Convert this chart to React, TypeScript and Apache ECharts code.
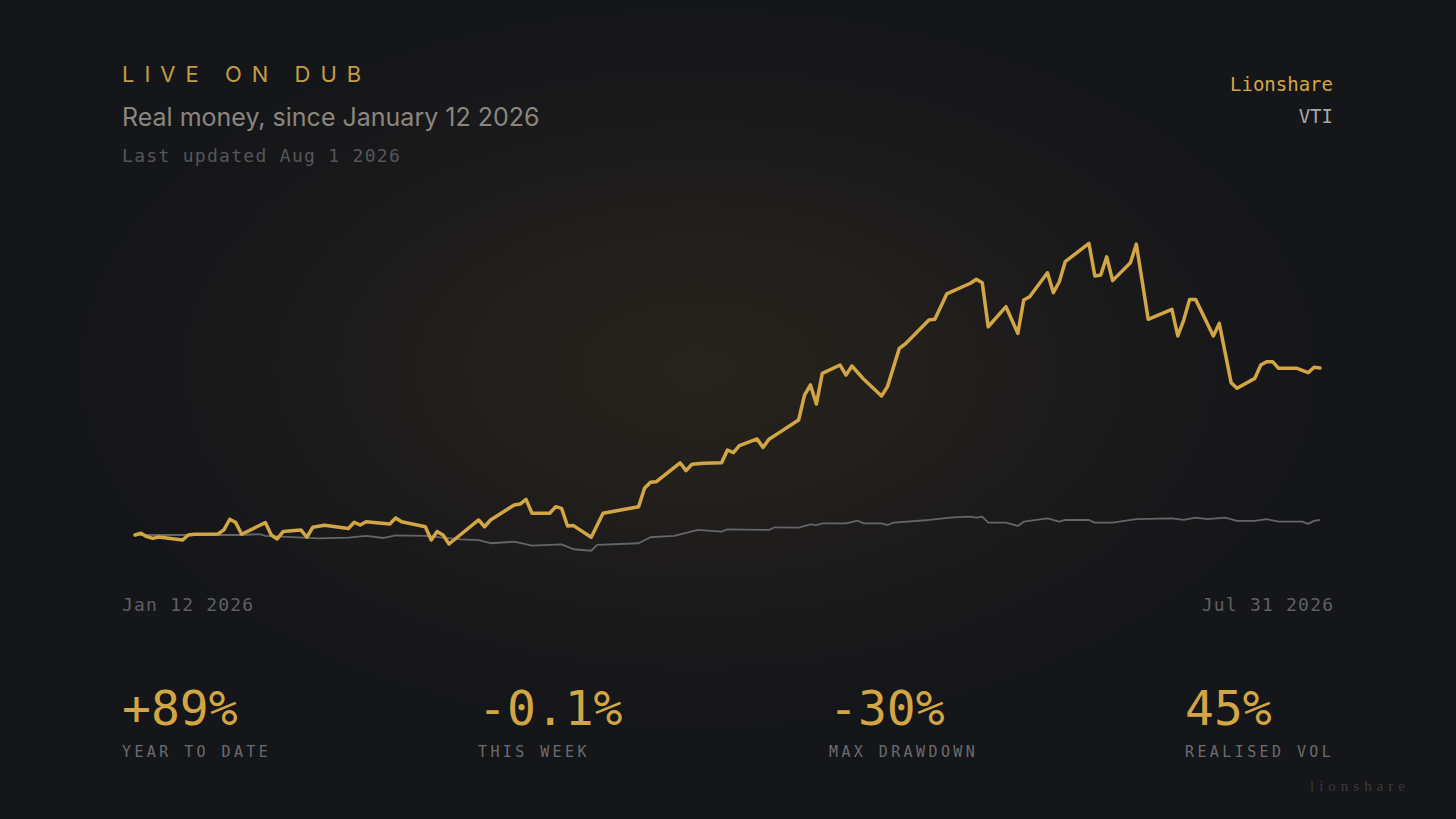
import { useEffect, useRef } from 'react';
import * as echarts from 'echarts';

// Days since Jan 12 2026 and cumulative return (%)
const lionDays = [0, 1, 2, 3, 4, 8, 9, 10, 14, 15, 16, 17, 18, 22, 23, 24, 25, 28, 29, 30, 32, 36, 37, 38, 39, 43, 44, 45, 49, 50, 51, 52, 53, 58, 59, 60, 64, 65, 66, 67, 70, 71, 72, 73, 74, 77, 79, 85, 86, 87, 88, 92, 93, 94, 96, 99, 100, 101, 102, 105, 106, 107, 109, 112, 113, 114, 115, 116, 119, 120, 121, 123, 126, 127, 129, 130, 134, 135, 137, 141, 142, 143, 144, 147, 149, 150, 151, 154, 155, 156, 157, 161, 162, 163, 164, 165, 168, 169, 171, 175, 176, 177, 178, 179, 182, 183, 185, 186, 189, 190, 191, 192, 193, 196, 198, 199, 200];
const lionValues = [0, 0.9, -0.9, -1.8, -1.1, -2.7, 0, 0.4, 0.5, 2.7, 8.4, 6.6, 0.4, 6.6, 0, -2.1, 1.8, 2.7, -1.2, 4.1, 5.2, 3.4, 6.8, 5.3, 7.1, 5.9, 9.1, 7.1, 4.4, -2.7, 1.8, 0, -4.8, 8.0, 4.4, 8.0, 16.0, 16.5, 19.0, 11.6, 11.6, 15.1, 14.2, 4.8, 5.0, -1.2, 11.6, 15.1, 24.9, 28.1, 28.4, 38.5, 34.3, 37.7, 38.2, 38.5, 45.3, 43.9, 47.6, 51.2, 46.7, 51.0, 55.1, 61.3, 74.6, 80.0, 69.8, 86.2, 90.6, 85.3, 90.1, 83.0, 74.1, 79.1, 99.5, 101.8, 114.6, 115.0, 128.5, 134.2, 136.3, 134.5, 111.0, 121.7, 107.5, 125.3, 127.0, 139.8, 129.2, 135.0, 145.7, 155.5, 138.1, 138.6, 148.3, 135.6, 145.1, 155.1, 115.0, 120.3, 106.1, 114.6, 125.6, 125.6, 106.1, 112.8, 81.2, 78.2, 83.5, 90.6, 92.4, 92.4, 88.9, 88.9, 86.5, 89.4, 89.0];

const vtiDays = [0, 14, 18, 21, 22, 31, 36, 39, 42, 44, 49, 55, 58, 60, 64, 67, 72, 74, 77, 78, 85, 87, 91, 95, 99, 100, 107, 108, 112, 114, 115, 116, 120, 122, 123, 126, 127, 128, 134, 138, 141, 142, 143, 144, 147, 149, 150, 154, 156, 157, 161, 162, 165, 169, 175, 177, 179, 181, 184, 186, 189, 191, 193, 197, 198, 199, 200];
const vtiValues = [0, 0, 0, 0.5, -0.5, -1.8, -1.4, -0.5, -1.6, -0.2, -0.5, -2.3, -2.7, -4.4, -3.6, -5.7, -5.0, -7.6, -8.4, -5.3, -4.4, -1.2, -0.5, 2.7, 1.8, 3.0, 2.7, 4.1, 3.9, 5.7, 5.3, 6.2, 6.2, 7.6, 6.2, 6.2, 5.3, 6.6, 8.0, 9.4, 9.8, 9.2, 9.8, 6.6, 6.6, 4.8, 7.1, 8.9, 7.1, 8.0, 8.0, 6.6, 6.6, 8.5, 8.9, 8.0, 9.2, 8.5, 9.2, 7.5, 7.5, 8.4, 7.1, 7.1, 5.9, 7.5, 8.0];

const seriesNames = ['Lionshare', 'VTI'];
const xTickLabels = ['Jan 12 2026', 'Jul 31 2026'];
const statValues = ['+89%', '-0.1%', '-30%', '45%'];
const statLabels = ['YEAR TO DATE', 'THIS WEEK', 'MAX DRAWDOWN', 'REALISED VOL'];
const kicker = 'LIVE ON DUB';
const title = 'Real money, since January 12 2026';
const updated = 'Last updated Aug 1 2026';
const watermark = 'lionshare';

const GOLD = '#d3a645';
const MONO = '"DejaVu Sans Mono", "Liberation Mono", monospace';
const SANS = 'Inter, "Noto Sans", sans-serif';
const TICK_SP = 1.2;

const spacing: Record<string, number> = {
  [kicker]: 10,
  [updated]: 1.3,
  [xTickLabels[0]]: TICK_SP,
  [xTickLabels[1]]: TICK_SP,
  [statLabels[0]]: 3.4,
  [statLabels[1]]: 3.4,
  [statLabels[2]]: 3.4,
  [statLabels[3]]: 3.4,
  [watermark]: 5,
};

export default function App() {
  const ref = useRef<HTMLDivElement>(null);
  useEffect(() => {
    document.body.style.margin = '0';
    const el = ref.current!;
    const chart = echarts.init(el, undefined, { renderer: 'svg' });
    const statX = [122, 478, 829, 1185];
    const graphic: any[] = [
      { type: 'text', x: 122, y: 74, style: { text: kicker, fill: '#c49c45', font: `400 22px ${SANS}`, textVerticalAlign: 'middle' } },
      { type: 'text', x: 122, y: 117, style: { text: title, fill: '#8b867e', font: `400 25px ${SANS}`, textVerticalAlign: 'middle' } },
      { type: 'text', x: 122, y: 155, style: { text: updated, fill: '#55565a', font: `400 18px ${MONO}`, textVerticalAlign: 'middle' } },
      { type: 'text', x: 1333, y: 84, style: { text: seriesNames[0], fill: GOLD, font: `400 19px ${MONO}`, textAlign: 'right', textVerticalAlign: 'middle' } },
      { type: 'text', x: 1333, y: 116, style: { text: seriesNames[1], fill: '#a9a9a9', font: `400 19px ${MONO}`, textAlign: 'right', textVerticalAlign: 'middle' } },
      { type: 'text', x: 122, y: 604, style: { text: xTickLabels[0], fill: '#5f6065', font: `400 18px ${MONO}`, textVerticalAlign: 'middle' } },
      { type: 'text', x: 1333 + TICK_SP, y: 604, style: { text: xTickLabels[1], fill: '#5f6065', font: `400 18px ${MONO}`, textAlign: 'right', textVerticalAlign: 'middle' } },
      { type: 'text', x: 1310, y: 786, style: { text: watermark, fill: '#3a3a3e', font: `400 15px "Liberation Serif", "DejaVu Serif", serif`, textVerticalAlign: 'middle' } },
    ];
    statValues.forEach((v, i) => {
      graphic.push({ type: 'text', x: statX[i], y: 708, style: { text: v, fill: GOLD, font: `400 48px ${MONO}`, textVerticalAlign: 'middle' } });
      graphic.push({ type: 'text', x: statX[i], y: 752, style: { text: statLabels[i], fill: '#6c6c6f', font: `400 15px ${MONO}`, textVerticalAlign: 'middle' } });
    });
    chart.setOption({
      animation: false,
      backgroundColor: 'transparent',
      grid: { left: 135, right: 136, top: 216.1, bottom: 246.5 },
      xAxis: { type: 'value', min: 0, max: 200, show: false },
      yAxis: { type: 'value', min: -20, max: 170, show: false },
      graphic,
      series: [
        {
          name: seriesNames[1], type: 'line', showSymbol: false, symbol: 'none', z: 2,
          data: vtiDays.map((d, i) => [d, vtiValues[i]]),
          lineStyle: { color: '#656567', width: 1.8 },
        },
        {
          name: seriesNames[0], type: 'line', showSymbol: false, symbol: 'none', z: 3,
          data: lionDays.map((d, i) => [d, lionValues[i]]),
          lineStyle: { color: GOLD, width: 3.5, join: 'round', cap: 'round' },
        },
      ],
    });
    const applySpacing = () => {
      el.querySelectorAll('text').forEach((t) => {
        const s = spacing[t.textContent || ''];
        if (s !== undefined) t.setAttribute('letter-spacing', String(s));
      });
    };
    applySpacing();
    const timer = setTimeout(applySpacing, 50);
    return () => {
      clearTimeout(timer);
      chart.dispose();
    };
  }, []);
  return (
    <div
      style={{
        width: 1456,
        height: 819,
        background:
          'radial-gradient(ellipse 620px 360px at 48% 45%, #27231d 0%, #221f1c 35%, #1b1a1b 65%, #151619 100%), #141519',
      }}
    >
      <div ref={ref} style={{ width: 1456, height: 819 }} />
    </div>
  );
}
